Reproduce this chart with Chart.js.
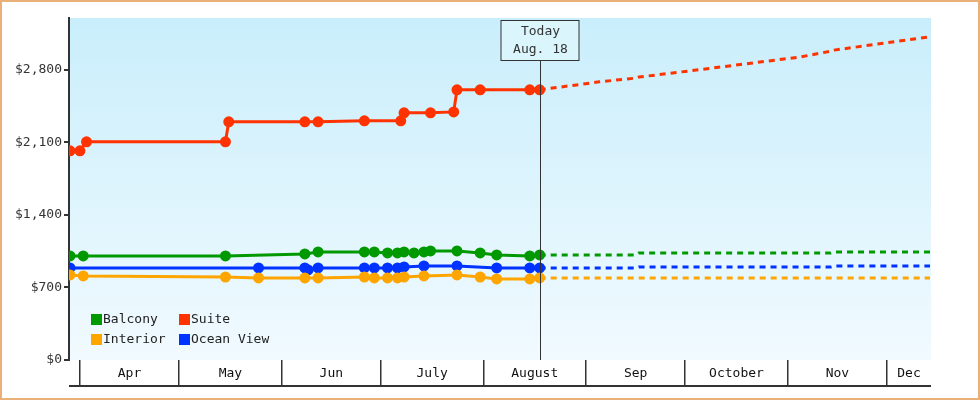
<!DOCTYPE html>
<html><head><meta charset="utf-8">
<script src="https://cdn.jsdelivr.net/npm/chart.js@4"></script>
<style>body{margin:0;background:#fff}#w{position:relative;width:976px;height:396px;border:2px solid #e9b07a}canvas{display:block}</style>
</head><body><div id="w"><canvas id="c" width="976" height="396"></canvas></div>
<script>
// x values: days since Apr 1
const balconyDays = [-3,1,44,68,72,86,89,93,96,98,101,104,106,114,121,126,136,139];
const balconyVals = [1004,1004,1004,1023,1043,1043,1043,1033,1033,1043,1033,1043,1052,1052,1033,1014,1004,1014];
const oceanDays = [-3,54,68,69,72,86,89,93,96,98,104,114,126,136,139];
const oceanVals = [888,888,888,869,888,888,888,888,888,898,908,908,888,888,888];
const interiorDays = [-3,1,44,54,68,72,86,89,93,96,98,104,114,121,126,136,139];
const interiorVals = [821,811,801,792,792,792,801,792,792,792,801,811,821,801,782,782,792];
const suiteDays = [-3,0,2,44,45,68,72,86,97,98,106,113,114,121,136,139];
const suiteVals = [2018,2018,2105,2105,2298,2298,2298,2308,2308,2385,2385,2394,2607,2607,2607,2607];
const forecastDays = [139,157,168,169,187,218,227,228,257];
const balconyFc = [1014,1014,1014,1033,1033,1033,1033,1043,1043];
const oceanFc = [888,888,888,898,898,898,898,908,908];
const interiorFc = [792,792,792,792,792,792,792,792,792];
const suiteFc = [2607,2684,2720,2730,2800,2925,2980,2990,3119];
const monthStarts = [0,30,61,91,122,153,183,214,244];
const monthLabels = ['Apr','May','Jun','July','August','Sep','October','Nov','Dec'];
const yTicks = [0,700,1400,2100,2800];
const todayDay = 139;
const todayText = ['Today','Aug. 18'];

const C = {Balcony:'#009900',Suite:'#ff3300',Interior:'#ffa500','Ocean View':'#0033ff'};
const pts = (d,v)=>d.map((x,i)=>({x, y:v[i]}));
function hist(label,d,v){return {label,data:pts(d,v),borderColor:C[label],backgroundColor:C[label],borderWidth:3,pointRadius:4,pointHoverRadius:4,tension:0};}
function fc(label,v){return {label:label+' forecast',data:pts(forecastDays,v),borderColor:C[label],borderWidth:3,borderDash:[6,5],pointRadius:0,tension:0};}
const mono = "'DejaVu Sans Mono', monospace";

const deco = {
  id:'deco',
  beforeDraw(ch){
    const {ctx,chartArea:a} = ch;
    const g = ctx.createLinearGradient(0,a.top,0,a.bottom);
    g.addColorStop(0,'#c9eefb'); g.addColorStop(1,'#f1faff');
    ctx.fillStyle=g; ctx.fillRect(a.left,a.top,a.right-a.left,a.bottom-a.top);
  },
  afterDraw(ch){
    const {ctx,chartArea:a,scales:{x}} = ch;
    ctx.save();
    ctx.strokeStyle='#333'; ctx.lineWidth=2;
    ctx.beginPath(); ctx.moveTo(a.left,a.bottom+26); ctx.lineTo(a.right,a.bottom+26); ctx.stroke();
    ctx.fillStyle='#111'; ctx.font='13px '+mono; ctx.textAlign='center'; ctx.textBaseline='middle';
    monthStarts.forEach((s,i)=>{
      const e = i<monthStarts.length-1?monthStarts[i+1]:x.max;
      const xp = (x.getPixelForValue(s)+Math.min(x.getPixelForValue(e),a.right))/2;
      ctx.fillText(monthLabels[i],xp,a.bottom+14);
    });
    const tx = Math.round(x.getPixelForValue(todayDay))+0.5;
    ctx.strokeStyle='#333'; ctx.lineWidth=1;
    ctx.beginPath(); ctx.moveTo(tx,58); ctx.lineTo(tx,a.bottom); ctx.stroke();
    ctx.fillStyle='rgba(220,245,252,0.9)'; ctx.fillRect(tx-39.5,18.5,78,40);
    ctx.strokeRect(tx-39.5,18.5,78,40);
    ctx.fillStyle='#333';
    ctx.fillText(todayText[0],tx,30); ctx.fillText(todayText[1],tx,48);
    const items = ch.data.datasets.filter(d=>!d.label.endsWith('forecast'));
    const order = ['Balcony','Suite','Interior','Ocean View'];
    ctx.textAlign='left';
    order.forEach((l,i)=>{
      const ds = items.find(d=>d.label===l);
      const lx = a.left+22+(i%2)*88, ly = 318+Math.floor(i/2)*20;
      ctx.fillStyle=ds.borderColor; ctx.fillRect(lx,ly-6,11,11);
      ctx.fillStyle='#222'; ctx.fillText(l,lx+12,ly);
    });
    ctx.restore();
  }
};

new Chart(document.getElementById('c'),{
  type:'line',
  data:{datasets:[
    fc('Interior',interiorFc),fc('Ocean View',oceanFc),fc('Balcony',balconyFc),fc('Suite',suiteFc),
    hist('Interior',interiorDays,interiorVals),hist('Ocean View',oceanDays,oceanVals),
    hist('Balcony',balconyDays,balconyVals),hist('Suite',suiteDays,suiteVals)
  ]},
  options:{
    responsive:false, animation:false, devicePixelRatio:1,
    layout:{padding:{top:16,right:47,left:0,bottom:0}},
    plugins:{legend:{display:false},tooltip:{enabled:false}},
    scales:{
      x:{type:'linear',min:-3.3,max:257.3,
        afterBuildTicks:s=>{s.ticks=monthStarts.map(v=>({value:v}));},
        afterFit:s=>{s.height=38;},
        ticks:{callback:()=>'',autoSkip:false,maxRotation:0},
        border:{display:false},
        grid:{drawOnChartArea:false,tickLength:26,color:'#333',lineWidth:1.5}},
      y:{min:0,max:3300,
        afterBuildTicks:s=>{s.ticks=yTicks.map(v=>({value:v}));},
        afterFit:s=>{s.width=67;},
        ticks:{color:'#333',font:{family:mono,size:13},padding:2,
          callback:v=>'$'+v.toLocaleString('en-US')},
        border:{color:'#333',width:2},
        grid:{drawOnChartArea:false,tickLength:5,color:'#333',lineWidth:2}}
    }
  },
  plugins:[deco]
});
</script>
</body></html>
